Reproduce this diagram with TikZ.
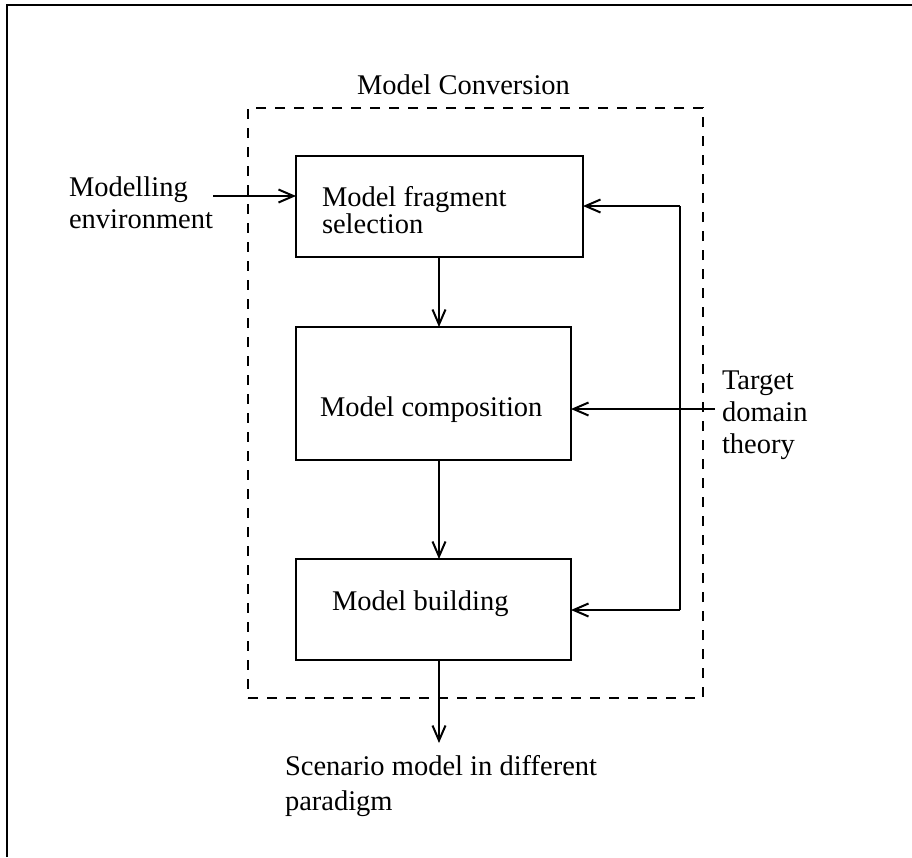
\documentclass[tikz,border=0pt]{standalone}
\usepackage{fontspec}
\setmainfont{Liberation Serif}
\usetikzlibrary{arrows.meta}
\begin{document}
\begin{tikzpicture}[x=1pt,y=-1pt,
  every node/.style={inner sep=0pt, outer sep=0pt},
  % multi-line labels are anchored at the baseline of their last line
  txt/.style={font=\fontsize{28.5}{#1}\selectfont, anchor=base west, align=left},
  txt/.default=33,
  stage/.style={draw, line width=2pt, rectangle},
  boundary/.style={draw, line width=2pt, dash pattern=on 10pt off 9pt},
  wire/.style={line width=2pt},
  flow/.style={line width=2pt, -{Straight Barb[length=15pt,width=13pt,line width=2pt]}},
  frame/.style={line width=2.8pt}
]
\useasboundingbox (0,0) rectangle (912,857);

% page frame: top and left rules
\coordinate (fl) at (7,857);
\coordinate (ftl) at (7,5);
\coordinate (fr) at (912,5);
\draw[frame] (fl) -- (ftl) -- (fr);

% conversion boundary
\node[boundary, minimum width=455pt, minimum height=590pt] (conv) at (475.5,403) {};
\node[txt] (convlbl) at (357,94) {Model Conversion};

% processing stages
\node[stage, minimum width=287pt, minimum height=101pt] (b1) at (439.5,206.5) {};
\node[stage, minimum width=275pt, minimum height=133pt] (b2) at (433.5,393.5) {};
\node[stage, minimum width=275pt, minimum height=101pt] (b3) at (433.5,609.5) {};

\node[txt=27] (b1lbl) at (322,233) {Model fragment\\selection};
\node[txt] (b2lbl) at (320,416) {Model composition};
\node[txt] (b3lbl) at (332,610) {Model building};

% external inputs and output
\node[txt=32] (env) at (69,228) {Modelling\\environment};
\node[txt=32] (tgt) at (722,453) {Target\\domain\\theory};
\node[txt=35] (out) at (285,810) {Scenario model in different\\paradigm};

% connectors
\coordinate (xa) at (439,0);
\coordinate (envend) at (213,196);
\coordinate (tgtend) at (715,409);
\coordinate (fbtop) at (680,206);
\coordinate (fbbot) at (680,610);
\coordinate (outend) at (439,743);

\draw[flow] (envend) -- (envend -| b1.west);
\draw[flow] (b1.south -| xa) -- (b2.north -| xa);
\draw[flow] (b2.south -| xa) -- (b3.north -| xa);
\draw[flow] (b3.south -| xa) -- (outend);
\draw[flow] (tgtend) -- (tgtend -| b2.east);
\draw[wire] (fbtop) -- (fbbot);
\draw[flow] (fbtop) -- (fbtop -| b1.east);
\draw[flow] (fbbot) -- (fbbot -| b3.east);
\end{tikzpicture}
\end{document}
